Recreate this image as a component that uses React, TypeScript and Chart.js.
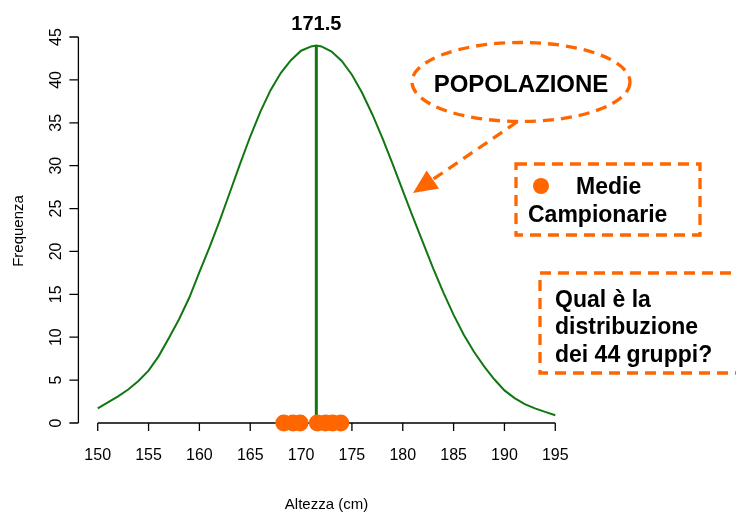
import React, { useEffect, useRef } from "react";
import { Chart, registerables } from "chart.js";

Chart.register(...registerables);

// ---- data ----
const curveX = [150, 151, 152, 153, 154, 155, 156, 157, 158, 159, 160, 161, 162, 163, 164, 165, 166, 167, 168, 169, 170, 171, 171.5, 172, 173, 174, 175, 176, 177, 178, 179, 180, 181, 182, 183, 184, 185, 186, 187, 188, 189, 190, 191, 192, 193, 194, 195];
const curveY = [1.7, 2.4, 3.1, 3.9, 4.9, 6.1, 7.8, 9.9, 12.1, 14.6, 17.6, 20.5, 23.6, 26.9, 30.2, 33.4, 36.3, 38.8, 40.8, 42.3, 43.4, 43.9, 44.0, 43.9, 43.3, 42.2, 40.6, 38.5, 36.0, 33.2, 30.2, 27.1, 24.0, 21.0, 18.0, 15.2, 12.6, 10.3, 8.3, 6.6, 5.1, 3.8, 2.9, 2.2, 1.7, 1.3, 0.9];
const sampleMeans = [168.3, 169.2, 169.9, 171.6, 172.4, 173.1, 173.9];
const popMean = 171.5;
const popPeak = 44;
const xTicks = [150, 155, 160, 165, 170, 175, 180, 185, 190, 195];
const yTicks = [0, 5, 10, 15, 20, 25, 30, 35, 40, 45];
const xTitle = "Altezza (cm)";
const yTitle = "Frequenza";
const meanLabel = "171.5";
const popLabel = "POPOLAZIONE";
const legendLines = ["Medie", "Campionarie"];
const questionLines = ["Qual è la", "distribuzione", "dei 44 gruppi?"];

const GREEN = "#117711";
const ORANGE = "#ff6600";
const FONT = '"Liberation Sans", Arial, Helvetica, sans-serif';

const decor = {
  id: "decor",
  beforeDatasetsDraw(chart: any) {
    const ctx = chart.ctx;
    const xs = chart.scales.x;
    const ys = chart.scales.y;
    const y0 = ys.getPixelForValue(0);
    const xl = chart.chartArea.left;
    ctx.save();
    ctx.strokeStyle = "#000";
    ctx.lineWidth = 1.3;
    ctx.beginPath();
    ctx.moveTo(xs.getPixelForValue(xTicks[0]), y0);
    ctx.lineTo(xs.getPixelForValue(xTicks[xTicks.length - 1]), y0);
    xTicks.forEach((v) => {
      const px = xs.getPixelForValue(v);
      ctx.moveTo(px, y0);
      ctx.lineTo(px, y0 + 8);
    });
    ctx.moveTo(xl, ys.getPixelForValue(yTicks[0]));
    ctx.lineTo(xl, ys.getPixelForValue(yTicks[yTicks.length - 1]));
    yTicks.forEach((v) => {
      const py = ys.getPixelForValue(v);
      ctx.moveTo(xl, py);
      ctx.lineTo(xl - 9, py);
    });
    ctx.stroke();

    ctx.fillStyle = "#000";
    ctx.font = `16px ${FONT}`;
    ctx.textAlign = "center";
    ctx.textBaseline = "alphabetic";
    xTicks.forEach((v) => ctx.fillText(String(v), xs.getPixelForValue(v), 460));
    yTicks.forEach((v) => {
      ctx.save();
      ctx.translate(61, ys.getPixelForValue(v));
      ctx.rotate(-Math.PI / 2);
      ctx.fillText(String(v), 0, 0);
      ctx.restore();
    });
    ctx.font = `15px ${FONT}`;
    ctx.fillText(xTitle, (xs.getPixelForValue(150) + xs.getPixelForValue(195)) / 2, 509);
    ctx.save();
    ctx.translate(23, 231);
    ctx.rotate(-Math.PI / 2);
    ctx.fillText(yTitle, 0, 0);
    ctx.restore();
    ctx.restore();
  },
  afterDatasetsDraw(chart: any) {
    const ctx = chart.ctx;
    const xs = chart.scales.x;
    ctx.save();
    // mean label
    ctx.fillStyle = "#000";
    ctx.font = `bold 20px ${FONT}`;
    ctx.textAlign = "center";
    ctx.textBaseline = "alphabetic";
    ctx.fillText(meanLabel, xs.getPixelForValue(popMean), 29.5);

    ctx.strokeStyle = ORANGE;
    ctx.fillStyle = ORANGE;
    ctx.lineWidth = 3.3;
    ctx.setLineDash([11, 7]);
    // ellipse
    ctx.beginPath();
    ctx.ellipse(521, 82, 109, 39.5, 0, 0, Math.PI * 2);
    ctx.stroke();
    // arrow
    const sx = 517, sy = 122, tx = 413, ty = 193;
    const dx = tx - sx, dy = ty - sy;
    const len = Math.hypot(dx, dy);
    const ux = dx / len, uy = dy / len;
    const hl = 24, hw = 11;
    const bx = tx - ux * hl, by = ty - uy * hl;
    ctx.beginPath();
    ctx.moveTo(sx, sy);
    ctx.lineTo(bx, by);
    ctx.stroke();
    ctx.setLineDash([]);
    ctx.beginPath();
    ctx.moveTo(tx, ty);
    ctx.lineTo(bx - uy * hw, by + ux * hw);
    ctx.lineTo(bx + uy * hw, by - ux * hw);
    ctx.closePath();
    ctx.fill();
    ctx.setLineDash([11, 7]);
    // boxes
    ctx.strokeRect(516, 164, 184, 71);
    ctx.strokeRect(540, 273, 215, 100);
    ctx.setLineDash([]);
    // legend dot
    ctx.beginPath();
    ctx.arc(541, 186, 8, 0, Math.PI * 2);
    ctx.fill();

    ctx.fillStyle = "#000";
    ctx.font = `bold 24px ${FONT}`;
    ctx.fillText(popLabel, 521, 91.5);
    ctx.font = `bold 23px ${FONT}`;
    ctx.textAlign = "left";
    ctx.fillText(legendLines[0], 576, 193.5);
    ctx.fillText(legendLines[1], 528, 221.5);
    questionLines.forEach((t, i) => ctx.fillText(t, 555, 306.5 + i * 27.5));
    ctx.restore();
  },
};

export default function App() {
  const ref = useRef<HTMLCanvasElement | null>(null);
  useEffect(() => {
    document.body.style.margin = "0";
    const canvas = ref.current;
    if (!canvas) return;
    const chart = new Chart(canvas, {
      type: "line",
      data: {
        datasets: [
          {
            type: "scatter",
            label: "Medie campionarie",
            data: sampleMeans.map((x) => ({ x, y: 0 })),
            backgroundColor: ORANGE,
            borderWidth: 0,
            pointRadius: 8.5,
            clip: false,
            order: 0,
          } as any,
          {
            label: "Media",
            data: [
              { x: popMean, y: 0 },
              { x: popMean, y: popPeak },
            ],
            borderColor: GREEN,
            borderWidth: 3,
            pointRadius: 0,
            order: 1,
          },
          {
            label: "Popolazione",
            data: curveX.map((x, i) => ({ x, y: curveY[i] })),
            borderColor: GREEN,
            borderWidth: 2,
            pointRadius: 0,
            tension: 0,
            order: 2,
          },
        ],
      },
      options: {
        animation: false,
        responsive: false,
        maintainAspectRatio: false,
        devicePixelRatio: 1,
        layout: { padding: { left: 78.4, right: 161.4, top: 37, bottom: 93 } },
        plugins: { legend: { display: false }, tooltip: { enabled: false } },
        scales: {
          x: { type: "linear", min: 148.1, max: 196.9, display: false },
          y: { type: "linear", min: 0, max: 45, display: false },
        },
      },
      plugins: [decor],
    });
    return () => chart.destroy();
  }, []);
  return <canvas ref={ref} width={736} height={516} style={{ display: "block" }} />;
}
